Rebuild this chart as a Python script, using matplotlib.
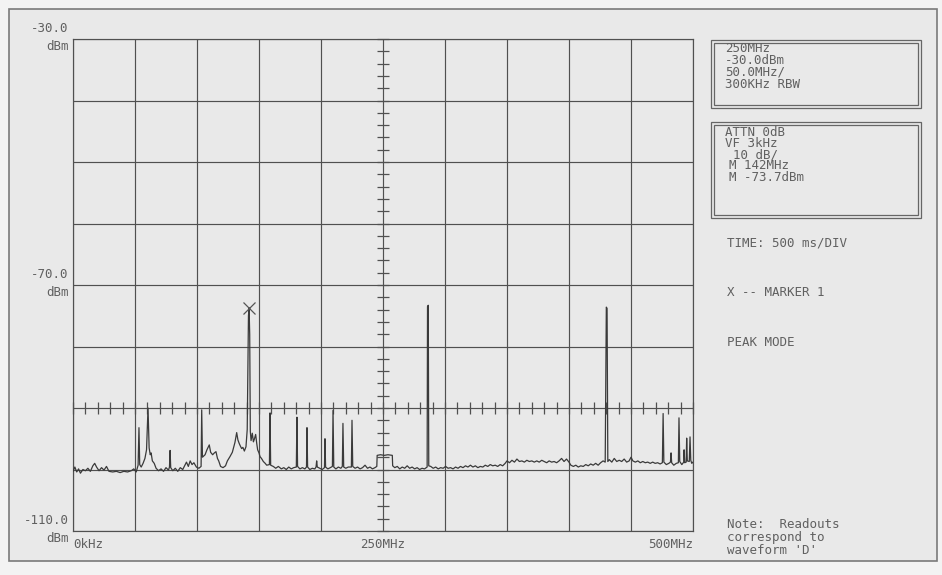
import matplotlib
matplotlib.use("Agg")
import matplotlib.pyplot as plt
from matplotlib.patches import Rectangle
import numpy as np

# spectrum analyser trace (MHz, dBm)
trace_mhz = [
    0, 1.5, 3, 4.5, 6, 8, 10, 12, 14, 16,
    17.5, 19, 21, 23, 25, 27, 29, 32, 35, 38,
    41, 44, 47, 49, 51, 52.5, 53.2, 53.8, 55, 56.5,
    58, 59.3, 60.5, 61.4, 62.3, 63, 64, 65.5, 67, 69,
    71, 73, 75, 77, 77.8, 78.3, 78.8, 80.5, 82.5, 84.5,
    86.5, 88.5, 90, 91.5, 93, 94.5, 96, 97.5, 99.5, 101.5,
    103.3, 103.8, 104.4, 106.5, 108, 109.9, 111, 112.6, 114, 115.3,
    116.5, 117.5, 119, 121, 123, 124.5, 126.6, 128.5, 130.6, 132,
    133, 134.1, 135, 136, 137, 138.2, 139.5, 140.5, 141.5, 142,
    142.5, 143, 143.6, 144.6, 145.5, 146.2, 147.3, 148.2, 148.9, 150,
    150.8, 152, 153.5, 155, 156.2, 158.4, 158.9, 159.4, 161.5, 163.5,
    165.6, 168, 170, 172, 174, 176, 178, 180.1, 180.6, 181.1,
    183, 185, 187, 188.3, 188.7, 189.2, 191, 193, 195, 196,
    196.5, 197, 199, 201, 202.8, 203.2, 203.7, 205.5, 207.5, 209.2,
    209.7, 210.3, 212, 214, 216, 217.2, 217.7, 218.3, 220, 222,
    224.5, 225, 225.6, 227.5, 229.5, 231.5, 233.5, 235.5, 237.5, 239.5,
    241.5, 243.5, 245, 245.3, 248, 251, 254, 257.5, 257.8, 259.5,
    261.5, 263.5, 265.5, 267.5, 269.5, 271.5, 273.5, 275.5, 277.5, 279.5,
    281.5, 283.5, 285.6, 285.9, 286.5, 286.9, 288.5, 290.5, 292.5, 294.5,
    296.5, 298.5, 300.5, 302.5, 304.5, 306.5, 308.5, 310.5, 312.5, 314.5,
    316.5, 318.5, 320.5, 322.5, 324.5, 326.5, 328.5, 330.5, 332.5, 334.5,
    336.5, 338.5, 340.5, 342.5, 344.5, 346.5, 348.5, 350, 352, 354,
    356, 358, 360, 362, 364, 366, 368, 370, 372, 374,
    376, 378, 380, 382, 384, 386, 388, 390, 392, 394,
    396, 398, 400, 401.5, 403.5, 405.5, 407.5, 409.5, 411.5, 413.5,
    415.5, 417.5, 419.5, 421.5, 423.5, 425.5, 427.5, 429.2, 430.1, 430.7,
    431.3, 432.5, 434.5, 436.5, 438.5, 440.5, 442.5, 444.5, 446.5, 448.5,
    450, 451.5, 453.5, 455.5, 457.5, 459.5, 461.5, 463.5, 465.5, 467.5,
    469.5, 471.5, 473.5, 475.3, 475.9, 476.5, 478.5, 480.5, 481.8, 482.3,
    482.8, 484.5, 486.5, 488.2, 488.7, 489.3, 491, 492.5, 492.8, 493.3,
    494.5, 494.9, 495.4, 497, 497.6, 498.2, 499, 500,
]
trace_dbm = [
    -100.3, -99.6, -100.4, -99.9, -100.6, -100.0, -100.2, -99.8, -100.3, -99.4,
    -99.0, -99.6, -100.2, -99.7, -100.1, -99.5, -100.3, -100.4, -100.3, -100.5,
    -100.3, -100.4, -100.2, -99.9, -100.4, -99.3, -93.2, -99.2, -99.6, -99.0,
    -98.2, -96.8, -90.0, -96.5, -97.6, -97.3, -98.6, -99.0, -99.8, -100.2,
    -99.9, -100.3, -99.7, -100.1, -99.6, -96.9, -99.7, -100.2, -99.8, -100.3,
    -99.7, -100.0, -99.4, -98.8, -99.5, -98.6, -99.2, -98.9, -99.6, -99.8,
    -99.5, -90.3, -98.0, -97.6, -96.8, -96.0, -97.2, -97.6, -97.3, -97.1,
    -98.2, -98.6, -99.5, -99.7, -99.4, -98.6, -97.9, -97.2, -95.6, -94.0,
    -95.2, -95.8, -96.2, -96.6, -96.4, -97.0, -96.3, -93.5, -75.0, -73.7,
    -78.0, -93.8, -95.3, -94.1, -95.5, -95.1, -94.3, -95.8, -96.8, -97.3,
    -97.9, -98.2, -98.7, -99.0, -99.3, -99.2, -90.8, -99.3, -99.5, -99.8,
    -99.5, -99.9, -99.7, -100.0, -99.6, -99.9, -99.7, -99.6, -91.5, -99.5,
    -99.9, -99.7, -99.9, -99.6, -93.2, -99.6, -100.0, -99.8, -99.9, -99.6,
    -98.6, -99.6, -99.8, -100.0, -99.7, -95.0, -99.6, -99.9, -99.7, -99.5,
    -90.4, -99.6, -99.9, -99.6, -99.8, -99.5, -92.5, -99.6, -99.8, -99.6,
    -99.6, -92.0, -99.5, -99.8, -99.6, -99.9, -99.7, -99.3, -99.8, -99.6,
    -99.9, -99.7, -99.5, -97.7, -97.6, -97.7, -97.6, -97.7, -99.4, -99.7,
    -99.5, -99.9, -99.6, -99.8, -99.4, -99.8, -99.6, -99.9, -99.7, -100.0,
    -99.8, -99.9, -99.6, -73.5, -73.3, -99.4, -99.5, -99.8, -99.6, -99.9,
    -99.7, -99.8, -99.5, -99.8, -99.7, -99.9, -99.6, -99.8, -99.5, -99.7,
    -99.4, -99.6, -99.3, -99.6, -99.4, -99.7, -99.5, -99.6, -99.3, -99.5,
    -99.2, -99.4, -99.3, -99.5, -99.2, -99.4, -99.0, -98.6, -98.9, -98.5,
    -98.8, -98.3, -98.7, -98.6, -98.8, -98.5, -98.7, -98.6, -98.8, -98.6,
    -98.8, -98.5, -98.7, -98.9, -98.6, -98.8, -98.7, -98.9, -98.6, -98.2,
    -98.7, -98.3, -98.8, -99.3, -99.5, -99.3, -99.6, -99.4, -99.5, -99.2,
    -99.4, -99.1, -99.3, -99.0, -99.3, -98.9, -98.6, -98.8, -73.6, -73.8,
    -98.7, -98.4, -98.8, -98.2, -98.7, -98.5, -98.7, -98.3, -98.8, -98.6,
    -98.0, -98.6, -98.8, -98.6, -98.9, -98.7, -98.9, -98.8, -99.0, -98.8,
    -99.0, -98.9, -99.1, -98.9, -90.9, -98.8, -99.2, -99.0, -98.8, -97.3,
    -98.9, -99.3, -99.0, -98.9, -91.6, -98.7, -99.2, -98.8, -96.8, -98.9,
    -98.8, -94.9, -98.6, -98.7, -94.7, -98.5, -99.0, -98.8,
]

marker_mhz = 142
marker_dbm = -73.7

y_labels = ["-30.0", "-70.0", "-110.0"]
y_label_vals = [-30, -70, -110]
x_labels = ["0kHz", "250MHz", "500MHz"]

settings_box = ["250MHz", "-30.0dBm", "50.0MHz/", "300KHz RBW"]
status_box = ["ATTN 0dB", "VF 3kHz", "10 dB/", "M 142MHz", "M -73.7dBm"]
side_notes = ["TIME: 500 ms/DIV", "X -- MARKER 1", "PEAK MODE"]
note_lines = ["Note:  Readouts", "correspond to", "waveform 'D'"]

W, H = 942, 575
GRID = "#505050"
INK = "#606060"
MONO = "DejaVu Sans Mono"
FS = 9

def fx(x):
    return x / W

def fy(y):
    return 1 - y / H

fig = plt.figure(figsize=(W / 100, H / 100), dpi=100)
fig.patch.set_facecolor("#f3f3f3")

# outer frame of the screen dump
fig.patches.append(Rectangle((fx(9), fy(561)), fx(937) - fx(9), fy(9) - fy(561),
                             transform=fig.transFigure, facecolor="#e9e9e9",
                             edgecolor="#7a7a7a", lw=1.2, zorder=-5))

ax = fig.add_axes([fx(73), fy(531), fx(693) - fx(73), fy(39) - fy(531)])
ax.set_zorder(2)
ax.set_facecolor("#e9e9e9")
ax.set_xlim(0, 500)
ax.set_ylim(-110, -30)
ax.set_xticks(np.arange(0, 501, 50))
ax.set_yticks(np.arange(-110, -29, 10))
ax.tick_params(length=0, labelbottom=False, labelleft=False)
ax.grid(True, color=GRID, lw=0.85)
for s in ax.spines.values():
    s.set_color(GRID)
    s.set_linewidth(0.85)

# graticule minor ticks on the centre line and the -90 dBm line
ax.plot(np.full(41, 250), np.arange(-110, -29, 2), ls="None", marker="_",
        ms=8, mew=0.9, color=GRID, clip_on=False)
ax.plot(np.arange(0, 501, 10), np.full(51, -90), ls="None", marker="|",
        ms=8.5, mew=0.9, color=GRID, clip_on=False)

ax.plot(trace_mhz, trace_dbm, color="#3a3a3a", lw=0.9, zorder=3)
ax.plot(marker_mhz, marker_dbm, marker="x", ms=9, mew=0.9, color="#555555", zorder=4)

for lab, v in zip(y_labels, y_label_vals):
    ax.annotate(lab, (0, v), xycoords=("axes fraction", "data"), xytext=(-3, 3),
                textcoords="offset points", ha="right", va="bottom",
                family=MONO, fontsize=FS, color=INK, annotation_clip=False)
    ax.annotate("dBm", (0, v), xycoords=("axes fraction", "data"), xytext=(-3, -1),
                textcoords="offset points", ha="right", va="top",
                family=MONO, fontsize=FS, color=INK, annotation_clip=False)

x_align = ["left", "center", "right"]
for lab, v, ha in zip(x_labels, [0, 250, 500], x_align):
    ax.annotate(lab, (v, 0), xycoords=("data", "axes fraction"), xytext=(0, -5),
                textcoords="offset points", ha=ha, va="top",
                family=MONO, fontsize=FS, color=INK, annotation_clip=False)

# readout boxes on the right
def double_box(x0, y0, x1, y1):
    for d in (0, 3):
        fig.patches.append(Rectangle((fx(x0 + d), fy(y1 - d)), fx(x1 - x0 - 2 * d),
                                     fy(0) - fy(y1 - y0 - 2 * d),
                                     transform=fig.transFigure, fill=False,
                                     edgecolor="#666666", lw=0.9))

double_box(711, 40, 921, 108)
double_box(711, 122, 921, 218)

for i, t in enumerate(settings_box):
    fig.text(fx(725), fy(49 + 11.7 * i), t, family=MONO, fontsize=FS,
             color=INK, va="center")

status_x = [725, 725, 733, 729, 729]
for i, t in enumerate(status_box):
    fig.text(fx(status_x[i]), fy(132 + 11.3 * i), t, family=MONO, fontsize=FS,
             color=INK, va="center")

for t, y in zip(side_notes, [243, 292, 343]):
    fig.text(fx(727), fy(y), t, family=MONO, fontsize=FS, color=INK, va="center")

for i, t in enumerate(note_lines):
    fig.text(fx(727), fy(525 + 12.5 * i), t, family=MONO, fontsize=FS,
             color=INK, va="center")

fig.savefig("out.png", dpi=100, facecolor=fig.get_facecolor())
